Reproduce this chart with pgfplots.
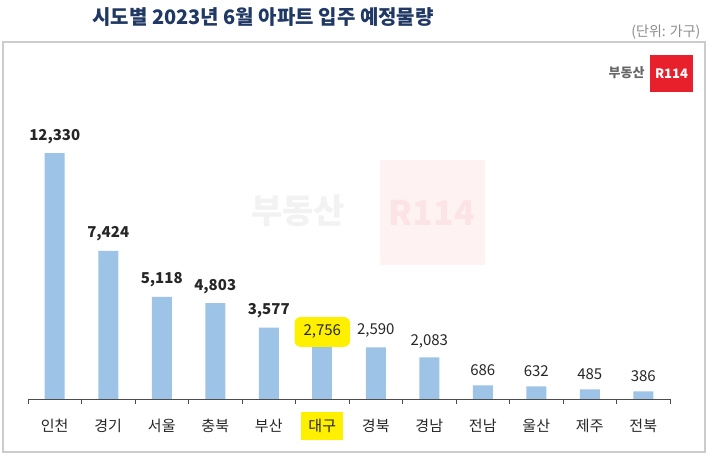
\documentclass[border=0pt]{standalone}
\usepackage{fontspec}
\setmainfont{Noto Sans CJK KR}
\usepackage{pgfplots}
\pgfplotsset{compat=1.18}
\definecolor{barblue}{RGB}{157,195,230}
\definecolor{titlenavy}{RGB}{31,56,100}
\definecolor{hl}{RGB}{255,240,0}
\definecolor{logored}{RGB}{232,32,44}
\begin{document}
\begin{tikzpicture}
\path[use as bounding box] (0pt,0pt) rectangle (710pt,457pt);
% frame
\draw[line width=1.5pt, black!20] (3pt,5pt) rectangle (705pt,415pt);
% title and unit
\node[font=\fontsize{20}{23}\selectfont\bfseries, text=titlenavy] at (263pt,440pt) {시도별 2023년 6월 아파트 입주 예정물량};
\node[font=\fontsize{14}{16}\selectfont, text=black!45, anchor=east] at (704pt,425pt) {(단위: 가구)};
% logo
\node[font=\fontsize{13}{15}\selectfont\bfseries, text=black!60, anchor=east] at (648pt,384pt) {부동산};
\node[fill=logored, minimum width=43pt, minimum height=37pt, inner sep=0pt, text=white,
      font=\fontsize{13}{15}\selectfont\bfseries] at (671.5pt,383pt) {R114};
% faint watermark
\node[font=\fontsize{34}{40}\selectfont\bfseries, text=black, opacity=0.05] at (298pt,246pt) {부동산};
\node[fill=logored, fill opacity=0.06, minimum width=105pt, minimum height=105pt, inner sep=0pt,
      text=logored, text opacity=0.07, font=\fontsize{34}{40}\selectfont\bfseries] at (432pt,244pt) {R114};
\begin{axis}[
    at={(28pt,58pt)}, anchor=south west,
    scale only axis, width=642pt, height=279.3pt,
    xmin=-0.5, xmax=11.5, ymin=0, ymax=14000,
    axis x line=bottom, axis y line=none,
    axis line style={-, black!70, line width=0.6pt},
    xtick={0,...,11},
    xticklabels={인천,경기,서울,충북,부산,{\setlength{\fboxsep}{7pt}\colorbox{hl}{대구}},경북,경남,전남,울산,제주,전북},
    major tick length=0pt,
    xticklabel style={font=\fontsize{15}{17}\selectfont, yshift=-27pt, anchor=center, inner sep=1pt, text=black!85},
    extra x ticks={-0.5,0.5,...,11.5},
    extra x tick labels={},
    extra tick style={major tick length=5pt, tick align=outside, tick style={black!70, line width=0.6pt}},
    ybar, bar width=20pt, bar shift=0pt,
    clip=false,
    nodes near coords,
    point meta=explicit symbolic,
    every node near coord/.append style={font=\fontsize{15}{17}\selectfont, yshift=6pt, text=black!85},
]
\addplot[fill=barblue, draw=none, every node near coord/.append style={font=\fontsize{15}{17}\selectfont\bfseries}]
  coordinates {(0,12330)[12,330] (1,7424)[7,424] (2,5118)[5,118] (3,4803)[4,803] (4,3577)[3,577]};
\addplot[fill=barblue, draw=none, every node near coord/.append style={fill=hl, rounded corners=6pt, inner xsep=9pt, inner ysep=8pt, yshift=-9pt}]
  coordinates {(5,2756)[2,756]};
\addplot[fill=barblue, draw=none]
  coordinates {(6,2590)[2,590] (7,2083)[2,083] (8,686)[686] (9,632)[632] (10,485)[485] (11,386)[386]};
\end{axis}
\end{tikzpicture}
\end{document}
